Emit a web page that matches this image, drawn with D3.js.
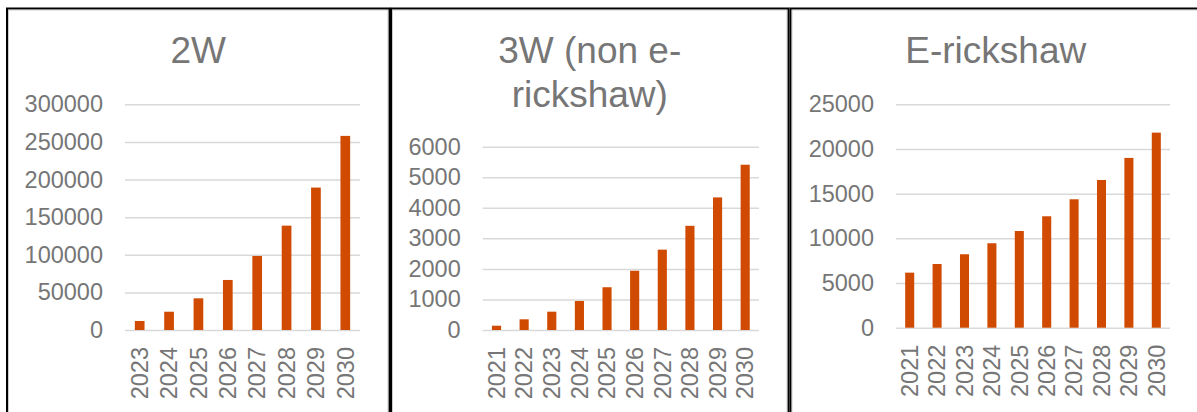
<!DOCTYPE html>
<html>
<head>
<meta charset="utf-8">
<script src="https://cdn.jsdelivr.net/npm/d3@7"></script>
<style>
  body { margin: 0; background: #fff; }
  svg { display: block; }
</style>
</head>
<body>
<div id="chart"></div>
<script>
// values
const years2W = ["2023", "2024", "2025", "2026", "2027", "2028", "2029", "2030"];
const values2W = [12000, 24300, 42100, 66500, 98400, 138700, 189300, 258000];
const ticks2W = [0, 50000, 100000, 150000, 200000, 250000, 300000];

const years3W = ["2021", "2022", "2023", "2024", "2025", "2026", "2027", "2028", "2029", "2030"];
const values3W = [140, 350, 600, 950, 1400, 1940, 2630, 3410, 4340, 5410];
const ticks3W = [0, 1000, 2000, 3000, 4000, 5000, 6000];

const yearsER = ["2021", "2022", "2023", "2024", "2025", "2026", "2027", "2028", "2029", "2030"];
const valuesER = [6160, 7130, 8220, 9450, 10820, 12470, 14370, 16530, 19000, 21830];
const ticksER = [0, 5000, 10000, 15000, 20000, 25000];

const W = 1197, H = 412;
const textColor = "#767676";
const barColor = "#d04a02";
const gridColor = "#d9d9d9";
const font = "'Liberation Sans', Arial, sans-serif";

const svg = d3.select("#chart").append("svg")
    .attr("width", W)
    .attr("height", H);

function drawPanel(p) {
    // panel frame
    svg.append("rect")
        .attr("x", p.left)
        .attr("y", 8.5)
        .attr("width", p.right - p.left)
        .attr("height", H + 20)
        .attr("fill", "none")
        .attr("stroke", "#000")
        .attr("stroke-width", 2);
    svg.append("rect")
        .attr("x", p.left + 1.5)
        .attr("y", 10)
        .attr("width", p.right - p.left - 3)
        .attr("height", H + 20)
        .attr("fill", "none")
        .attr("stroke", "#aaa")
        .attr("stroke-width", 0.6);

    // title
    const cx = (p.left + p.right) / 2;
    p.title.forEach((line, i) => {
        svg.append("text")
            .attr("x", cx)
            .attr("y", 63 + i * 44)
            .attr("text-anchor", "middle")
            .attr("font-family", font)
            .attr("font-size", "37px")
            .attr("fill", textColor)
            .text(line);
    });

    let xScale = d3.scaleBand()
        .domain(p.years)
        .range([p.x0, p.x1])
        .paddingInner(0.67)
        .paddingOuter(0.335);
    let yScale = d3.scaleLinear()
        .domain([0, d3.max(p.ticks)])
        .range([p.y0, p.y1]);

    // y axis with gridlines
    const yAxis = svg.append("g")
        .attr("transform", `translate(${p.x0},0)`)
        .call(d3.axisLeft(yScale).tickValues(p.ticks).tickSize(-(p.x1 - p.x0)).tickPadding(22).tickFormat(d3.format("d")));
    yAxis.select(".domain").remove();
    yAxis.selectAll("line")
        .attr("stroke", gridColor)
        .attr("stroke-width", 1.5);
    yAxis.selectAll("text")
        .attr("fill", textColor)
        .attr("font-family", font)
        .attr("font-size", "23.5px");

    // bars
    svg.append("g")
        .selectAll("rect")
        .data(p.values)
        .enter()
        .append("rect")
        .attr("x", (d, i) => xScale(p.years[i]))
        .attr("y", d => yScale(d))
        .attr("width", xScale.bandwidth())
        .attr("height", d => yScale(0) - yScale(d))
        .attr("fill", barColor);

    // x axis labels, rotated
    const xAxis = svg.append("g")
        .attr("transform", `translate(0,${p.y0})`)
        .call(d3.axisBottom(xScale).tickSize(0));
    xAxis.select(".domain").remove();
    xAxis.selectAll("text")
        .attr("transform", "rotate(-90)")
        .attr("text-anchor", "end")
        .attr("x", -17)
        .attr("y", 0)
        .attr("dy", "0.35em")
        .attr("fill", textColor)
        .attr("font-family", font)
        .attr("font-size", "23.5px");
}

drawPanel({
    left: 7, right: 389.5,
    title: ["2W"],
    years: years2W, values: values2W, ticks: ticks2W,
    x0: 125, x1: 360, y0: 330, y1: 104.3
});
drawPanel({
    left: 391, right: 788.5,
    title: ["3W (non e-", "rickshaw)"],
    years: years3W, values: values3W, ticks: ticks3W,
    x0: 482.7, x1: 759, y0: 330, y1: 146.7
});
drawPanel({
    left: 790.5, right: 1201,
    title: ["E-rickshaw"],
    years: yearsER, values: valuesER, ticks: ticksER,
    x0: 896, x1: 1170, y0: 327.7, y1: 104.3
});
</script>
</body>
</html>
